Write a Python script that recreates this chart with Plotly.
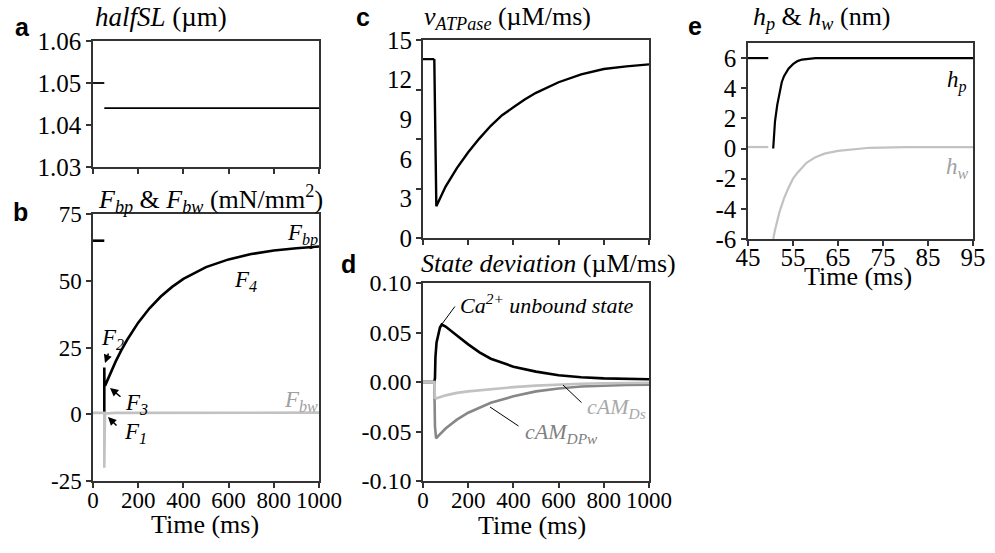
import plotly.graph_objects as go

W, H = 995, 553

# ---------------- data ----------------
# a: halfSL (um)
a_t_pre = [0, 50]
a_sl_pre = [1.05, 1.05]
a_t = [50, 1000]
a_sl = [1.044, 1.044]

# b: Fbp & Fbw (mN/mm2)
fbp_t_pre = [0, 50]
fbp_pre = [65, 65]
fbp_t = [50, 50, 50.5, 55, 75, 100, 125, 150, 200, 250, 300, 350, 400, 500, 600, 700, 800, 900, 1000]
fbp = [0, 17.5, 11, 11, 15.1, 19.7, 23.9, 27.7, 34.3, 39.7, 44.1, 47.7, 50.7, 55.1, 58.0, 60.0, 61.3, 62.2, 62.8]
fbw_t = [0, 50, 50, 51, 53, 56, 70, 100, 1000]
fbw = [0.5, 0.5, -20, -4, -0.5, 0.3, 0.4, 0.5, 0.6]

# c: vATPase (uM/ms)
vat_t_pre = [0, 50]
vat_pre = [13.55, 13.55]
vat_t = [50, 59, 100, 150, 200, 250, 300, 350, 400, 450, 500, 600, 700, 800, 900, 1000]
vat = [13.55, 2.4, 3.9, 5.3, 6.5, 7.55, 8.5, 9.3, 9.9, 10.5, 11.0, 11.8, 12.4, 12.8, 13.0, 13.15]

# d: state deviation (uM/ms)
ca_t = [0, 50, 53, 55, 60, 68, 75, 83, 90, 100, 150, 200, 250, 300, 400, 500, 600, 700, 800, 900, 1000]
ca = [0, 0, 0.004, 0.025, 0.040, 0.050, 0.055, 0.058, 0.0575, 0.056, 0.047, 0.038, 0.030, 0.0235,
      0.0155, 0.0105, 0.0068, 0.0048, 0.0037, 0.0031, 0.0028]
ds_t = [0, 50, 53, 60, 100, 150, 200, 300, 400, 500, 600, 700, 800, 900, 1000]
ds = [0, 0, -0.016, -0.0165, -0.0135, -0.011, -0.0095, -0.007, -0.0052, -0.0037, -0.0025,
      -0.0017, -0.0012, -0.0009, -0.0007]
dpw_t = [0, 50, 53, 58, 70, 100, 150, 200, 300, 400, 500, 600, 700, 800, 900, 1000]
dpw = [0, 0, -0.045, -0.057, -0.054, -0.047, -0.038, -0.031, -0.021, -0.0145, -0.0095, -0.0065,
       -0.0045, -0.0035, -0.003, -0.0027]

# e: hp & hw (nm)
hp_t_pre = [45, 49.5]
hp_pre = [6, 6]
hp_t = [50.6, 51, 51.5, 52, 52.5, 53, 54, 55, 56, 57, 58, 60, 65, 95]
hp = [0, 1.8, 2.9, 3.8, 4.4, 4.8, 5.3, 5.6, 5.8, 5.9, 5.95, 6.0, 6.0, 6.0]
hw_t_pre = [45, 49.5]
hw_pre = [0.1, 0.1]
hw_t = [50.6, 51, 52, 53, 54, 55, 56, 58, 60, 62, 65, 68, 72, 80, 95]
hw = [-6, -5.4, -4.2, -3.3, -2.6, -2.0, -1.6, -0.95, -0.57, -0.34, -0.16, -0.05, 0.05, 0.1, 0.1]

time_ticks = [0, 200, 400, 600, 800, 1000]
time_ticktext = ["0", "200", "400", "600", "800", "1000"]
a_yticks = [1.03, 1.04, 1.05, 1.06]
a_ytext = ["1.03", "1.04", "1.05", "1.06"]
b_yticks = [-25, 0, 25, 50, 75]
b_ytext = ["-25", "0", "25", "50", "75"]
c_ymarks = [0, 3.75, 7.5, 11.25, 15]
c_yticks = [0, 3, 6, 9, 12, 15]
c_ytext = ["0", "3", "6", "9", "12", "15"]
d_yticks = [-0.10, -0.05, 0.0, 0.05, 0.10]
d_ytext = ["-0.10", "-0.05", "0.00", "0.05", "0.10"]
e_xticks = [45, 55, 65, 75, 85, 95]
e_xtext = ["45", "55", "65", "75", "85", "95"]
e_yticks = [-6, -4, -2, 0, 2, 4, 6]
e_ytext = ["-6", "-4", "-2", "0", "2", "4", "6"]

# ---------------- styling ----------------
BLACK = "#000000"
LGREY = "#c2c2c2"
DGREY = "#878787"
AX = "#333333"
SERIF = "Liberation Serif, Times New Roman, Times, serif"
SANS = "Liberation Sans, Arial, sans-serif"


def px(x):
    return x / W


def py(y):
    return 1 - y / H


fig = go.Figure()


def line(x, y, xa, ya, color=BLACK, width=2.6):
    fig.add_trace(go.Scatter(x=x, y=y, xaxis=xa, yaxis=ya, mode="lines",
                             line=dict(color=color, width=width), hoverinfo="skip"))


# a
line(a_t_pre, a_sl_pre, "x", "y", width=1.8)
line(a_t, a_sl, "x", "y", width=1.8)
# b
line(fbp_t_pre, fbp_pre, "x2", "y2")
line(fbp_t, fbp, "x2", "y2")
line(fbw_t, fbw, "x2", "y2", color=LGREY)
# c
line(vat_t_pre, vat_pre, "x3", "y3", width=2.2)
line(vat_t, vat, "x3", "y3", width=2.4)
fig.add_trace(go.Scatter(x=[0], y=[0], xaxis="x3", yaxis="y6", mode="markers",
                         marker=dict(opacity=0), hoverinfo="skip"))
# d
line(ca_t, ca, "x4", "y4")
line(dpw_t, dpw, "x4", "y4", color=DGREY)
line(ds_t, ds, "x4", "y4", color=LGREY)
# e
line(hp_t_pre, hp_pre, "x5", "y5", width=2.2)
line(hp_t, hp, "x5", "y5", width=2.2)
line(hw_t_pre, hw_pre, "x5", "y5", color=LGREY, width=2.2)
line(hw_t, hw, "x5", "y5", color=LGREY, width=2.2)


def axis(domain, anchor, rng, tickvals, ticktext, size, show=True, standoff=0):
    return dict(domain=domain, anchor=anchor, range=rng, tickvals=tickvals, ticktext=ticktext,
                showticklabels=show, ticks="outside", ticklen=5, tickwidth=1.5, tickcolor=AX,
                showline=True, linecolor=AX, linewidth=1.5, mirror=True,
                showgrid=False, zeroline=False, fixedrange=True, ticklabelstandoff=standoff,
                tickfont=dict(family=SERIF, size=size, color=BLACK))


xa = [px(93), px(319)]
xc = [px(423), px(649)]
xe = [px(748), px(973)]

fig.update_layout(
    width=W, height=H, margin=dict(l=0, r=0, t=0, b=0, autoexpand=False),
    paper_bgcolor="white", plot_bgcolor="white", showlegend=False,
    font=dict(family=SERIF, color=BLACK),
    xaxis=axis(xa, "y", [0, 1000], time_ticks, time_ticktext, 23, show=False),
    yaxis=axis([py(167), py(41)], "x", [1.03, 1.06], a_yticks, a_ytext, 25),
    xaxis2=axis(xa, "y2", [0, 1000], time_ticks, time_ticktext, 23, standoff=-7),
    yaxis2=axis([py(481), py(214)], "x2", [-25, 75], b_yticks, b_ytext, 23),
    xaxis3=axis(xc, "y3", [0, 1000], time_ticks, time_ticktext, 23, show=False),
    yaxis3=axis([py(238), py(40)], "x3", [0, 15], c_ymarks, [""] * len(c_ymarks), 25),
    xaxis4=axis(xc, "y4", [0, 1000], time_ticks, time_ticktext, 23, standoff=-7),
    yaxis4=axis([py(481), py(283)], "x4", [-0.1, 0.1], d_yticks, d_ytext, 24),
    xaxis5=axis(xe, "y5", [45, 95], e_xticks, e_xtext, 25, standoff=-10),
    yaxis5=axis([py(239), py(43)], "x5", [-6, 7], e_yticks, e_ytext, 25),
    yaxis6=dict(overlaying="y3", anchor="x3", side="left", range=[0, 15], tickvals=c_yticks,
                ticktext=c_ytext, ticks="outside", ticklen=5, tickcolor="rgba(0,0,0,0)",
                showline=False, showgrid=False, zeroline=False, fixedrange=True,
                tickfont=dict(family=SERIF, size=25, color=BLACK)),
)

anns = []


def text(t, x, y, size=26, color=BLACK, family=SERIF, xanchor="center"):
    anns.append(dict(text=t, x=px(x), y=py(y), xref="paper", yref="paper", showarrow=False,
                     xanchor=xanchor, yanchor="middle", font=dict(family=family, size=size, color=color)))


def arrow(hx, hy, tx, ty, head=2, width=1.5, color=BLACK):
    anns.append(dict(text="", x=px(hx), y=py(hy), xref="paper", yref="paper", showarrow=True,
                     ax=tx - hx, ay=ty - hy, arrowhead=head, arrowsize=1.1, arrowwidth=width,
                     arrowcolor=color, standoff=0, startstandoff=0))


# panel letters
text("<b>a</b>", 22, 27, 25, family=SANS)
text("<b>b</b>", 20, 212, 25, family=SANS)
text("<b>c</b>", 363, 17, 25, family=SANS)
text("<b>d</b>", 348, 264, 25, family=SANS)
text("<b>e</b>", 695, 26, 25, family=SANS)

# panel titles
text("<i>halfSL</i> (µm)", 161, 17, 27)
text("<i>F<sub>bp</sub></i> &amp; <i>F<sub>bw</sub></i> (mN/mm<sup>2</sup>)", 210, 199, 26)
text("<i>v<sub>ATPase</sub></i> (µM/ms)", 508, 18, 26)
text("<i>State deviation</i> (µM/ms)", 548, 263, 26)
text("<i>h<sub>p</sub></i> &amp; <i>h<sub>w</sub></i> (nm)", 822, 18, 26)

# axis titles
text("Time (ms)", 205, 524, 26)
text("Time (ms)", 532, 525, 26)
text("Time (ms)", 858, 276, 26)

# b labels
text("<i>F<sub>bp</sub></i>", 302, 234, 23)
text("<i>F<sub>4</sub></i>", 245, 281, 23)
text("<i>F<sub>bw</sub></i>", 301, 401, 23, color="#a0a0a0")
text("<i>F<sub>2</sub></i>", 112, 339, 23)
text("<i>F<sub>3</sub></i>", 136, 404, 23)
text("<i>F<sub>1</sub></i>", 135, 433, 23)
arrow(105, 363, 109, 352)
arrow(110, 388, 122, 398)
arrow(108, 417, 118, 427)

# d labels
text("<i>Ca<sup>2+</sup> unbound state</i>", 458, 304, 22, xanchor="left")
text("<i>cAM<sub>Ds</sub></i>", 585, 408, 22, color="#a8a8a8", xanchor="left")
text("<i>cAM<sub>DPw</sub></i>", 523, 433, 22, color="#7f7f7f", xanchor="left")
arrow(442, 324, 456, 305, head=0, width=1)
arrow(563, 385, 583, 404, head=0, width=1)
arrow(490, 407, 520, 427, head=0, width=1)

# e labels
text("<i>h<sub>p</sub></i>", 957, 81, 23)
text("<i>h<sub>w</sub></i>", 957, 168, 23, color="#a0a0a0")

fig.update_layout(annotations=anns)
fig.write_html("out.html")
